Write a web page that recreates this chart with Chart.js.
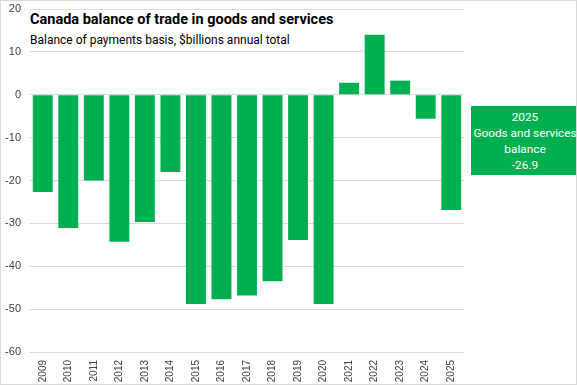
<!DOCTYPE html>
<html>
<head>
<meta charset="utf-8">
<script src="https://cdn.jsdelivr.net/npm/chart.js@4/dist/chart.umd.min.js"></script>
<style>
  html, body { margin: 0; padding: 0; background: #fff; }
  #wrap {
    position: relative;
    width: 577px;
    height: 385px;
    box-sizing: border-box;
    border: 1px solid #d9d9d9;
    overflow: hidden;
  }
  #tradeChart { position: absolute; left: -1px; top: -1px; }
  .title {
    position: absolute; left: 29px; top: 10px;
    font: bold 14.5px Roboto, sans-serif;
    color: #000; white-space: nowrap; background: #fff; padding-right: 2px;
  }
  .subtitle {
    position: absolute; left: 29px; top: 32px;
    font: 12px Roboto, sans-serif;
    color: #000; white-space: nowrap; background: #fff;
  }
  .callout {
    position: absolute; left: 470px; top: 105px;
    width: 108px; height: 69px;
    background: #00b050; color: #fff;
    font: 11.8px Roboto, sans-serif; line-height: 16px;
    text-align: center; padding-top: 3px; box-sizing: border-box;
    white-space: nowrap;
  }
</style>
</head>
<body>
<div id="wrap">
  <canvas id="tradeChart" width="577" height="385"></canvas>
  <div class="title">Canada balance of trade in goods and services</div>
  <div class="subtitle">Balance of payments basis, $billions annual total</div>
  <div class="callout">2025<br>Goods and services<br>balance<br>-26.9</div>
</div>
<script>
// years and balance ($ billions)
const years = ["2009", "2010", "2011", "2012", "2013", "2014", "2015", "2016", "2017",
  "2018", "2019", "2020", "2021", "2022", "2023", "2024", "2025"];
const balance = [-22.7, -31.1, -20.0, -34.3, -29.7, -18.0, -48.8, -47.7, -46.8,
  -43.5, -33.9, -48.8, 2.8, 14.0, 3.3, -5.6, -26.9];
const yMin = -60;
const yMax = 20;

const barGreen = "#00b050";

function drawTradeChart() {
  const ctx = document.getElementById("tradeChart");

  return new Chart(ctx, {
    type: "bar",
    data: {
      labels: years,
      datasets: [{
        label: "Goods and services balance",
        data: balance,
        backgroundColor: barGreen,
        borderWidth: 0,
        categoryPercentage: 1,
        barPercentage: 0.78
      }]
    },
    options: {
      responsive: false,
      animation: false,
      layout: {
        padding: { top: 9, right: 113, bottom: 0, left: 0 }
      },
      scales: {
        x: {
          grid: { display: false, drawTicks: false },
          border: { display: false },
          afterFit: (axis) => {
            axis.height = 33;
            axis.paddingLeft = 0;
            axis.paddingRight = 0;
          },
          ticks: {
            color: "#404040",
            font: { family: "Liberation Sans", size: 10 },
            maxRotation: 90,
            minRotation: 90,
            autoSkip: false,
            padding: 8
          }
        },
        y: {
          min: yMin,
          max: yMax,
          grid: { color: "#d9d9d9", drawTicks: false },
          border: { display: false },
          afterFit: (axis) => {
            axis.width = 30;
            axis.paddingTop = 0;
            axis.paddingBottom = 0;
          },
          ticks: {
            stepSize: 10,
            color: "#404040",
            font: { family: "Liberation Sans", size: 11 },
            padding: 9
          }
        }
      },
      plugins: {
        legend: { display: false },
        tooltip: { enabled: false }
      }
    }
  });
}

drawTradeChart();
</script>
</body>
</html>
